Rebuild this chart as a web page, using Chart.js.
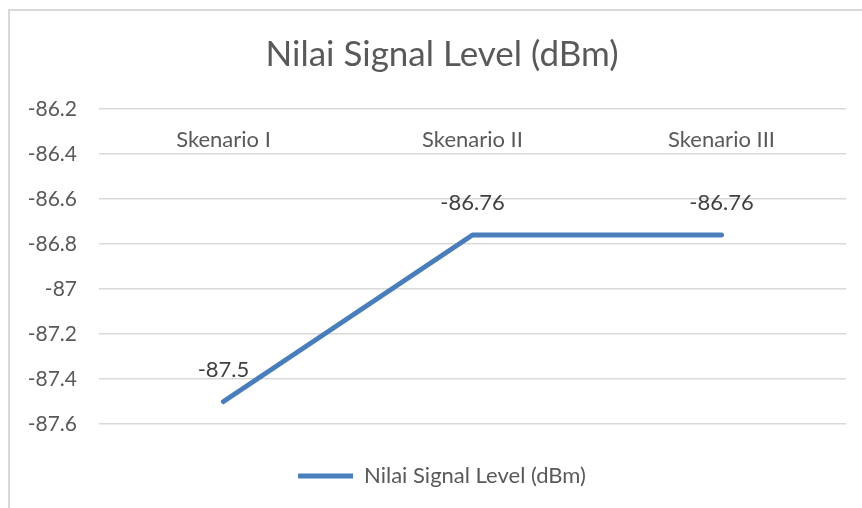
<!DOCTYPE html>
<html>
<head>
<meta charset="utf-8">
<script src="https://cdn.jsdelivr.net/npm/chart.js@4.4.0/dist/chart.umd.min.js"></script>
<style>
  html, body { margin: 0; padding: 0; background: #fff; }
  #wrap { width: 862px; height: 508px; }
</style>
</head>
<body>
<div id="wrap"><canvas id="chart"></canvas></div>
<script>
  // data
  const categories = ['Skenario I', 'Skenario II', 'Skenario III'];
  const signalLevel = [-87.5, -86.76, -86.76];
  const seriesName = 'Nilai Signal Level (dBm)';
  const yMin = -87.6;
  const yMax = -86.2;
  const yStep = 0.2;

  const FONT = 'Lato, "Noto Sans", sans-serif';
  const grey = '#595959';
  const tickSize = 21;
  const fmt = v => String(Math.round(v * 10) / 10);

  // width of the widest y label, so the mirrored labels can sit right-aligned left of the plot
  const mctx = document.createElement('canvas').getContext('2d');
  mctx.font = tickSize + 'px ' + FONT;
  let widest = 0;
  for (let v = yMin; v <= yMax + 1e-9; v += yStep) {
    widest = Math.max(widest, mctx.measureText(fmt(v)).width);
  }

  // grey frame round the chart (only top and left show in the picture)
  const frame = {
    id: 'frame',
    beforeDraw(chart) {
      const ctx = chart.ctx;
      ctx.save();
      ctx.strokeStyle = '#d9d9d9';
      ctx.lineWidth = 2;
      ctx.strokeRect(9, 10, 900, 600);
      ctx.restore();
    }
  };

  // value labels above each point
  const valueLabels = {
    id: 'valueLabels',
    afterDatasetsDraw(chart) {
      const ctx = chart.ctx;
      const meta = chart.getDatasetMeta(0);
      ctx.save();
      ctx.font = '22px ' + FONT;
      ctx.fillStyle = '#404040';
      ctx.textAlign = 'center';
      ctx.textBaseline = 'middle';
      meta.data.forEach((pt, i) => {
        ctx.fillText(String(signalLevel[i]), pt.x, pt.y - 32);
      });
      ctx.restore();
    }
  };

  new Chart(document.getElementById('chart'), {
    type: 'line',
    data: {
      labels: categories,
      datasets: [{
        label: seriesName,
        data: signalLevel,
        borderColor: '#4a7ebb',
        backgroundColor: '#4a7ebb',
        borderWidth: 5,
        borderCapStyle: 'round',
        borderJoinStyle: 'round',
        pointRadius: 0,
        pointHoverRadius: 0,
        tension: 0,
        fill: false
      }]
    },
    options: {
      responsive: true,
      maintainAspectRatio: false,
      animation: false,
      events: [],
      layout: { padding: { left: 38, right: 16, top: 10, bottom: 11 } },
      scales: {
        x: {
          position: 'top',
          offset: true,
          grid: { display: false },
          border: { display: false },
          ticks: {
            mirror: true,
            padding: 18,
            color: grey,
            font: { family: FONT, size: 22 }
          },
          afterFit(s) { s.height = 0; }
        },
        y: {
          min: yMin,
          max: yMax,
          grid: { color: '#d9d9d9', lineWidth: 1.5, drawTicks: false },
          border: { display: false },
          ticks: {
            stepSize: yStep,
            mirror: true,
            crossAlign: 'far',
            padding: -22 - widest,
            color: grey,
            font: { family: FONT, size: tickSize },
            callback: fmt
          },
          afterFit(s) { s.width = 61; }
        }
      },
      plugins: {
        title: {
          display: true,
          text: seriesName,
          color: grey,
          font: { family: FONT, size: 35, weight: 'normal' },
          padding: { top: 24, bottom: 33 }
        },
        legend: {
          position: 'bottom',
          title: { display: true, text: '', padding: { top: 7, bottom: 0 }, font: { size: 20 } },
          labels: {
            usePointStyle: true,
            pointStyle: 'line',
            pointStyleWidth: 55,
            padding: 10,
            color: grey,
            font: { family: FONT, size: 22 }
          }
        },
        tooltip: { enabled: false }
      }
    },
    plugins: [frame, valueLabels]
  });
</script>
</body>
</html>
